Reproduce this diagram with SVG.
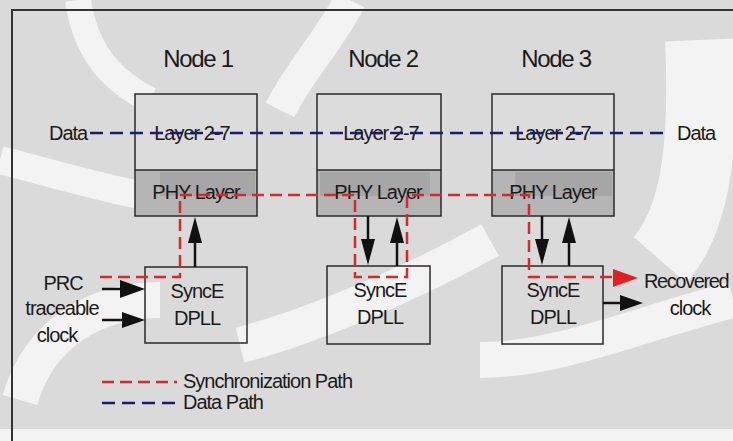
<svg xmlns="http://www.w3.org/2000/svg" width="733" height="441" viewBox="0 0 733 441">
<style>
.t{font-family:"Liberation Sans",Arial,sans-serif;font-size:20px;letter-spacing:-1px;fill:#1a1a1a}
.ttl{font-size:24px;letter-spacing:-1.3px}
.m{text-anchor:middle}
.box{fill:none;stroke:#2a2a2a;stroke-width:1.5}
.lay{fill:#dcdcdc}
.phy{fill:#b5b5b5}
.phy2{fill:#a6a6a6}
.data{stroke:#1c1c6b;stroke-width:2.5;stroke-dasharray:13 7;fill:none}
.sync{stroke:#d42a2a;stroke-width:2.5;stroke-dasharray:12 6;fill:none}
.ln{stroke:#111;stroke-width:2.5;fill:none}
.hd{fill:#111}
.wm{fill:none;stroke:#f3f3f3}
</style>
<rect width="733" height="441" fill="#dadada"/>
<g id="watermark">
<path class="wm" stroke-width="26" d="M78,0 C85,50 110,80 150,100"/>
<path class="wm" stroke-width="28" d="M0,160 C40,170 90,185 140,195"/>
<path class="wm" stroke-width="32" d="M350,0 C330,40 300,70 280,110"/>
<path class="wm" stroke-width="70" d="M700,40 C705,150 695,220 660,260"/>
<path class="wm" stroke-width="36" d="M240,345 C300,330 400,290 490,240"/>
<path class="wm" stroke-width="36" d="M480,360 C560,360 650,320 733,300"/>
<path class="wm" stroke-width="36" d="M20,400 C40,330 100,300 160,300"/>
<path class="wm" stroke-width="24" d="M0,441 L733,441"/>
</g>
<g id="frame" stroke="#333" stroke-width="2" fill="none">
<path d="M12,441 V10 H733"/>
</g>
<g id="node1">
<text class="t ttl m" x="198" y="67">Node 1</text>
<rect class="lay" x="135" y="94" width="122" height="76"/>
<rect class="phy" x="135" y="170" width="122" height="46"/>
<rect class="phy2" x="160" y="172" width="95" height="24"/>
<rect class="box" x="135" y="94" width="122" height="122"/>
<line class="box" x1="135" y1="170" x2="257" y2="170"/>
<text class="t m" x="192" y="140">Layer 2-7</text>
<text class="t m" x="196" y="199">PHY Layer</text>
<rect class="box" x="145" y="267" width="102" height="76"/>
<text class="t m" x="197" y="298">SyncE</text>
<text class="t m" x="197" y="325">DPLL</text>
</g>
<g id="node2">
<text class="t ttl m" x="383" y="67">Node 2</text>
<rect class="lay" x="317" y="94" width="124" height="76"/>
<rect class="phy" x="317" y="170" width="124" height="46"/>
<rect class="phy2" x="320" y="172" width="110" height="24"/>
<rect class="box" x="317" y="94" width="124" height="122"/>
<line class="box" x1="317" y1="170" x2="441" y2="170"/>
<text class="t m" x="381" y="140">Layer 2-7</text>
<text class="t m" x="378" y="199">PHY Layer</text>
<rect class="box" x="327" y="266" width="103" height="78"/>
<text class="t m" x="380" y="297">SyncE</text>
<text class="t m" x="380" y="324">DPLL</text>
</g>
<g id="node3">
<text class="t ttl m" x="556" y="67">Node 3</text>
<rect class="lay" x="492" y="94" width="122" height="76"/>
<rect class="phy" x="492" y="170" width="122" height="46"/>
<rect class="phy2" x="515" y="172" width="97" height="24"/>
<rect class="box" x="492" y="94" width="122" height="122"/>
<line class="box" x1="492" y1="170" x2="614" y2="170"/>
<text class="t m" x="553" y="140">Layer 2-7</text>
<text class="t m" x="553" y="199">PHY Layer</text>
<rect class="box" x="502" y="266" width="101" height="78"/>
<text class="t m" x="553" y="297">SyncE</text>
<text class="t m" x="553" y="324">DPLL</text>
</g>
<g id="labels">
<text class="t" x="49" y="140">Data</text>
<text class="t" x="677" y="140">Data</text>
<text class="t m" x="63" y="290">PRC</text>
<text class="t m" x="62" y="315">traceable</text>
<text class="t m" x="57" y="342">clock</text>
<text class="t" x="644" y="288" style="letter-spacing:-1.4px">Recovered</text>
<text class="t m" x="690" y="315">clock</text>
</g>
<g id="connectors">
<line class="data" x1="90" y1="133" x2="670" y2="133"/>
<path class="sync" d="M100,277 H180 V195 H355 V277 H407 V195 H529 V277 H615"/>
<polygon points="613,269 638,278 613,287" fill="#e02020"/>
<line class="ln" x1="195" y1="267" x2="195" y2="240"/>
<polygon class="hd" points="188,243 202,243 195,217"/>
<line class="ln" x1="368" y1="216" x2="368" y2="242"/>
<polygon class="hd" points="361,239 375,239 368,265"/>
<line class="ln" x1="397" y1="266" x2="397" y2="240"/>
<polygon class="hd" points="390,243 404,243 397,217"/>
<line class="ln" x1="542" y1="216" x2="542" y2="242"/>
<polygon class="hd" points="535,239 549,239 542,265"/>
<line class="ln" x1="569" y1="266" x2="569" y2="240"/>
<polygon class="hd" points="562,243 576,243 569,217"/>
<line class="ln" x1="102" y1="289" x2="124" y2="289" stroke-width="6"/>
<polygon class="hd" points="120,280 145,289 120,298"/>
<line class="ln" x1="102" y1="320" x2="124" y2="320"/>
<polygon class="hd" points="122,312 145,320 122,328"/>
<line class="ln" x1="603" y1="303" x2="624" y2="303"/>
<polygon class="hd" points="620,295 643,303 620,311"/>
</g>
<g id="legend">
<line class="sync" x1="102" y1="382" x2="177" y2="382"/>
<text class="t" x="183" y="388">Synchronization Path</text>
<line class="data" x1="102" y1="403" x2="177" y2="403" stroke="#2a2a4a"/>
<text class="t" x="183" y="409">Data Path</text>
</g>
</svg>
